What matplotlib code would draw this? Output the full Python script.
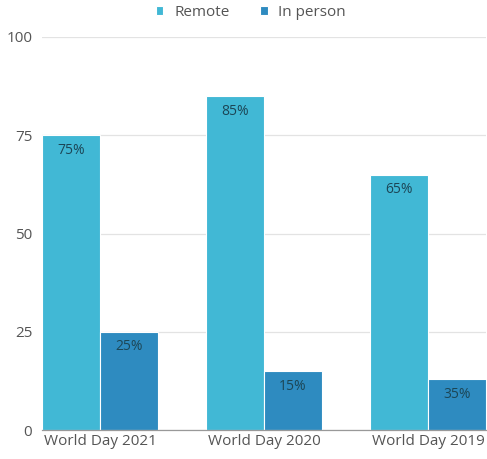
import matplotlib.pyplot as plt
import numpy as np

categories = ["World Day 2021", "World Day 2020", "World Day 2019"]
remote = [75, 85, 65]
in_person = [25, 15, 13]
remote_labels = ["75%", "85%", "65%"]
in_person_labels = ["25%", "15%", "35%"]

plt.rcParams['font.family'] = ['Open Sans', 'DejaVu Sans']

fig = plt.figure(figsize=(4.87, 4.59), dpi=100)
ax = fig.add_axes([42 / 487, 29 / 459, 444 / 487, 393 / 459])

w = 0.354
x = np.arange(len(categories))
b1 = ax.bar(x - w / 2, remote, w, color='#41b8d5', edgecolor='white', linewidth=0.8,
            label='Remote', zorder=3)
b2 = ax.bar(x + w / 2, in_person, w, color='#2e8bc0', edgecolor='white', linewidth=0.8,
            label='In person', zorder=3)

# value labels just inside the top of each bar
for bars, labels in ((b1, remote_labels), (b2, in_person_labels)):
    for bar, lab in zip(bars, labels):
        ax.annotate(lab, (bar.get_x() + bar.get_width() / 2, bar.get_height()),
                    xytext=(0, -5.5), textcoords='offset points', ha='center', va='top',
                    fontsize=10, color='#1c4656', zorder=4)

ax.set_xlim(-w, len(categories) - 1 + w)
ax.set_ylim(0, 100)
ax.set_yticks([0, 25, 50, 75, 100])
ax.set_xticks(x)
ax.set_xticklabels(categories)
ax.grid(axis='y', color='#e3e3e3', linewidth=0.9, zorder=0)
ax.tick_params(axis='both', length=0, labelsize=11, colors='#555555')
ax.tick_params(axis='x', pad=3)
ax.tick_params(axis='y', pad=7)
for side in ('top', 'right', 'left'):
    ax.spines[side].set_visible(False)
ax.spines['bottom'].set_color('#999999')
ax.spines['bottom'].set_linewidth(0.9)
ax.spines['bottom'].set_zorder(5)

fig.legend(handles=[b1, b2], loc='center', bbox_to_anchor=(0.515, 0.973), ncol=2,
           frameon=False, fontsize=11, handlelength=0.5, handleheight=0.5,
           columnspacing=2.0, handletextpad=0.7, labelcolor='#555555')

fig.savefig('out.png', dpi=100)
